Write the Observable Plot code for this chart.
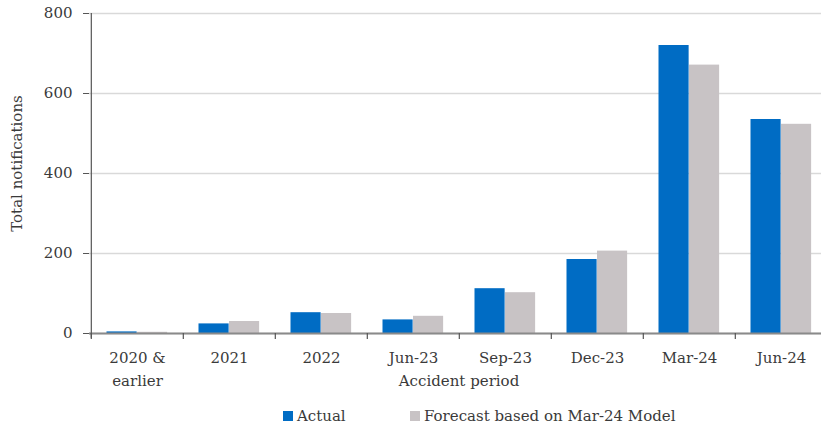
<!DOCTYPE html>
<html>
<head>
<meta charset="utf-8">
<script src="https://cdn.jsdelivr.net/npm/d3@7"></script>
<script src="https://cdn.jsdelivr.net/npm/@observablehq/plot@0.6"></script>
<style>
  html, body { margin: 0; padding: 0; background: #fff; overflow: hidden; }
  #chart svg { display: block; overflow: hidden; }
  .legend { position: relative; height: 24px; font-family: "DejaVu Serif", serif; font-size: 15px; color: #3a3a3a; }
  .legend .item { position: absolute; top: 0; display: flex; align-items: center; height: 24px; }
  .legend .sw { width: 10px; height: 10px; margin-right: 4px; }
</style>
</head>
<body>
<div id="chart"></div>
<div class="legend">
  <div class="item" style="left:283px"><span class="sw" style="background:#006CC4"></span><span>Actual</span></div>
  <div class="item" style="left:410px"><span class="sw" style="background:#C8C3C5"></span><span>Forecast based on Mar-24 Model</span></div>
</div>
<script>
const periods = ["2020 & earlier", "2021", "2022", "Jun-23", "Sep-23", "Dec-23", "Mar-24", "Jun-24"];
const periodLabels = ["2020 &\nearlier", "2021", "2022", "Jun-23", "Sep-23", "Dec-23", "Mar-24", "Jun-24"];
const actual = [4, 24, 52, 34, 112, 185, 720, 535];
const forecast = [3, 30, 50, 43, 102, 206, 671, 523];
const yTicks = [0, 200, 400, 600, 800];
const seriesNames = ["Actual", "Forecast based on Mar-24 Model"];
const colors = ["#006CC4", "#C8C3C5"];

const data = periods.flatMap((p, i) => [
  {period: p, series: seriesNames[0], value: actual[i]},
  {period: p, series: seriesNames[1], value: forecast[i]}
]);

const width = 821, height = 404, marginLeft = 89, marginRight = -7;
const bw = (width - marginLeft - marginRight) / periods.length;
const barW = 30.5, outer = 15.5;
const font = "DejaVu Serif";
const textColor = "#3a3a3a";

const chart = Plot.plot({
  width, height,
  marginLeft, marginRight,
  marginTop: 13, marginBottom: 71,
  style: {fontFamily: font, fontSize: "15px", color: textColor, background: "#fff"},
  x: {type: "band", domain: periods, padding: 0, axis: null},
  y: {domain: [0, 800], axis: null},
  marks: [
    Plot.gridY(yTicks, {stroke: "#d9d9d9", strokeOpacity: 1, strokeWidth: 1.3}),
    Plot.barY(data.filter(d => d.series === seriesNames[0]), {x: "period", y: "value", fill: colors[0], insetLeft: outer, insetRight: bw - outer - barW}),
    Plot.barY(data.filter(d => d.series === seriesNames[1]), {x: "period", y: "value", fill: colors[1], insetLeft: outer + barW, insetRight: bw - outer - 2 * barW}),
    Plot.ruleY([0], {stroke: "#8a8a8a", strokeWidth: 2}),
    Plot.ruleX(periods, {x: d => d, y1: 0, y2: -15, dx: -bw / 2, stroke: "#555", strokeWidth: 1.2}),
    Plot.ruleX([periods[0]], {dx: -bw / 2, y1: 800, y2: -12, stroke: "#555", strokeWidth: 1.2}),
    Plot.axisY(yTicks, {tickSize: 6, tickPadding: 11, stroke: "#555", fill: textColor, fontSize: 15, label: null}),
    Plot.axisX({tickSize: 0, tickPadding: 14, tickFormat: (d, i) => periodLabels[periods.indexOf(d)], lineHeight: 1.5, fill: textColor, fontSize: 15, label: null}),
    Plot.text(["Accident period"], {frameAnchor: "bottom", dy: 52, fill: textColor, fontSize: 15}),
    Plot.text(["Total notifications"], {frameAnchor: "left", textAnchor: "middle", dx: -72, dy: -10, rotate: -90, fill: textColor, fontSize: 15})
  ]
});
document.getElementById("chart").appendChild(chart);
</script>
</body>
</html>
